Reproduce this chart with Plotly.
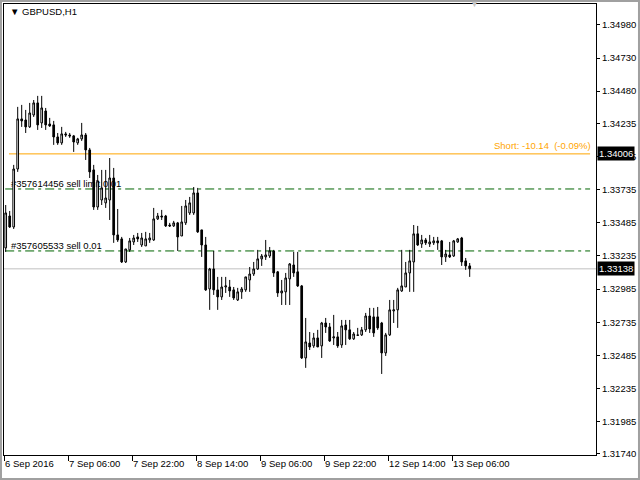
import plotly.graph_objects as go

# ---- data (GBPUSD, H1) ----
opens = [1.33296, 1.33537, 1.33454, 1.33892, 1.34270, 1.34262, 1.34210, 1.34300, 1.34391, 1.34240,
         1.34330, 1.34232, 1.34225, 1.34134, 1.34089, 1.34157, 1.34149, 1.34142, 1.34089, 1.34119,
         1.34149, 1.34036, 1.33885, 1.33605, 1.33658, 1.33636, 1.33658, 1.33824, 1.33394, 1.33364,
         1.33190, 1.33281, 1.33341, 1.33379, 1.33318, 1.33311, 1.33356, 1.33356, 1.33515, 1.33537,
         1.33537, 1.33469, 1.33462, 1.33485, 1.33386, 1.33485, 1.33560, 1.33560, 1.33711, 1.33432,
         1.33318, 1.32986, 1.33137, 1.32979, 1.32926, 1.33001, 1.33001, 1.32979, 1.32903, 1.32964,
         1.32979, 1.33054, 1.33099, 1.33137, 1.33213, 1.33228, 1.33235, 1.33273, 1.33115, 1.32956,
         1.32964, 1.33062, 1.33167, 1.33115, 1.33009, 1.32465, 1.32578, 1.32556, 1.32616, 1.32556,
         1.32729, 1.32699, 1.32616, 1.32624, 1.32563, 1.32714, 1.32677, 1.32609, 1.32639, 1.32639,
         1.32677, 1.32782, 1.32775, 1.32775, 1.32729, 1.32503, 1.32639, 1.32820, 1.32828, 1.32971,
         1.33001, 1.33107, 1.33190, 1.33402, 1.33326, 1.33356, 1.33326, 1.33334, 1.33349, 1.33349,
         1.33228, 1.33243, 1.33235, 1.33341, 1.33371, 1.33198, 1.33160]
highs = [1.33620, 1.33575, 1.33923, 1.34361, 1.34376, 1.34338, 1.34391, 1.34413, 1.34444, 1.34444,
         1.34353, 1.34278, 1.34255, 1.34164, 1.34210, 1.34172, 1.34164, 1.34149, 1.34127, 1.34240,
         1.34164, 1.34051, 1.33923, 1.33847, 1.33885, 1.33885, 1.33975, 1.33900, 1.33590, 1.33379,
         1.33288, 1.33371, 1.33394, 1.33409, 1.33409, 1.33417, 1.33409, 1.33598, 1.33560, 1.33583,
         1.33545, 1.33485, 1.33500, 1.33492, 1.33613, 1.33658, 1.33681, 1.33756, 1.33749, 1.33432,
         1.33379, 1.33145, 1.33273, 1.33077, 1.33077, 1.33077, 1.33054, 1.33001, 1.32994, 1.33001,
         1.33077, 1.33152, 1.33190, 1.33281, 1.33250, 1.33356, 1.33303, 1.33281, 1.33122, 1.33054,
         1.33107, 1.33182, 1.33266, 1.33266, 1.33016, 1.32767, 1.32661, 1.32654, 1.32677, 1.32737,
         1.32767, 1.32729, 1.32790, 1.32661, 1.32752, 1.32752, 1.32752, 1.32661, 1.32692, 1.32699,
         1.32805, 1.32843, 1.32843, 1.32850, 1.32737, 1.32654, 1.32903, 1.32903, 1.32994, 1.33281,
         1.33190, 1.33281, 1.33469, 1.33462, 1.33394, 1.33371, 1.33394, 1.33379, 1.33379, 1.33356,
         1.33281, 1.33341, 1.33356, 1.33371, 1.33379, 1.33220, 1.33182]
lows = [1.33266, 1.33447, 1.33439, 1.33870, 1.34210, 1.34164, 1.34202, 1.34285, 1.34187, 1.34202,
        1.34187, 1.34210, 1.34074, 1.34074, 1.34074, 1.34134, 1.34127, 1.34021, 1.34074, 1.34104,
        1.33960, 1.33824, 1.33583, 1.33583, 1.33620, 1.33598, 1.33507, 1.33334, 1.33341, 1.33182,
        1.33182, 1.33266, 1.33318, 1.33341, 1.33303, 1.33311, 1.33334, 1.33349, 1.33507, 1.33507,
        1.33454, 1.33454, 1.33454, 1.33273, 1.33386, 1.33469, 1.33545, 1.33545, 1.33409, 1.33228,
        1.32971, 1.32828, 1.32941, 1.32828, 1.32903, 1.32956, 1.32926, 1.32903, 1.32895, 1.32911,
        1.32964, 1.32964, 1.33084, 1.33130, 1.33160, 1.33205, 1.33220, 1.33077, 1.32926, 1.32865,
        1.32865, 1.32865, 1.33077, 1.33001, 1.32457, 1.32390, 1.32525, 1.32541, 1.32548, 1.32465,
        1.32654, 1.32586, 1.32563, 1.32541, 1.32541, 1.32563, 1.32601, 1.32601, 1.32631, 1.32631,
        1.32661, 1.32654, 1.32624, 1.32677, 1.32344, 1.32480, 1.32631, 1.32729, 1.32692, 1.32964,
        1.33001, 1.32964, 1.32964, 1.33311, 1.33296, 1.33318, 1.33303, 1.33318, 1.33281, 1.33167,
        1.33190, 1.33220, 1.33228, 1.33334, 1.33160, 1.33130, 1.33077]
closes = [1.33560, 1.33454, 1.33892, 1.34270, 1.34255, 1.34210, 1.34315, 1.34391, 1.34225, 1.34353,
          1.34225, 1.34217, 1.34134, 1.34089, 1.34157, 1.34149, 1.34142, 1.34096, 1.34119, 1.34149,
          1.34036, 1.33870, 1.33605, 1.33802, 1.33749, 1.33673, 1.33824, 1.33394, 1.33356, 1.33190,
          1.33288, 1.33349, 1.33371, 1.33364, 1.33371, 1.33364, 1.33371, 1.33515, 1.33537, 1.33530,
          1.33462, 1.33462, 1.33485, 1.33379, 1.33492, 1.33613, 1.33636, 1.33711, 1.33417, 1.33318,
          1.32979, 1.33137, 1.32979, 1.32926, 1.33001, 1.33009, 1.32971, 1.32918, 1.32964, 1.32986,
          1.33077, 1.33099, 1.33137, 1.33213, 1.33235, 1.33243, 1.33273, 1.33107, 1.32956, 1.32971,
          1.33069, 1.33175, 1.33107, 1.33009, 1.32465, 1.32586, 1.32548, 1.32616, 1.32548, 1.32729,
          1.32699, 1.32593, 1.32624, 1.32556, 1.32707, 1.32677, 1.32609, 1.32646, 1.32636, 1.32677,
          1.32782, 1.32684, 1.32654, 1.32692, 1.32503, 1.32639, 1.32828, 1.32828, 1.32979, 1.33009,
          1.33107, 1.33198, 1.33402, 1.33318, 1.33356, 1.33334, 1.33341, 1.33349, 1.33334, 1.33228,
          1.33250, 1.33228, 1.33349, 1.33364, 1.33190, 1.33160, 1.33138]

y_tick_values = [1.34980, 1.34730, 1.34480, 1.34235, 1.33985, 1.33735, 1.33485,
                 1.33235, 1.32985, 1.32735, 1.32485, 1.32235, 1.31985, 1.31740]
x_label_bars = [0, 16, 32, 48, 64, 80, 96, 112]
x_labels = ["6 Sep 2016", "7 Sep 06:00", "7 Sep 22:00", "8 Sep 14:00",
            "9 Sep 06:00", "9 Sep 22:00", "12 Sep 14:00", "13 Sep 06:00"]

symbol_title = "GBPUSD,H1"
short_level = 1.34006
short_text = "Short: -10.14  (-0.09%)"
bid_price = 1.33138
order_levels = [1.33741, 1.33273]
order_labels = ["#357614456 sell limit 0.01", "#357605533 sell 0.01"]

FONT = "Liberation Sans, Arial, sans-serif"
FS = 9.5

bars = list(range(len(opens)))

fig = go.Figure()
fig.add_trace(go.Candlestick(
    x=bars, open=opens, high=highs, low=lows, close=closes,
    increasing=dict(line=dict(color="black", width=1), fillcolor="white"),
    decreasing=dict(line=dict(color="black", width=1), fillcolor="black"),
    whiskerwidth=0, showlegend=False, hoverinfo="skip",
))

shapes = []
# bid line
shapes.append(dict(type="line", xref="x domain", yref="y", x0=0, x1=1,
                   y0=bid_price, y1=bid_price, line=dict(color="#c0c0c0", width=1),
                   layer="below"))
# short position line
shapes.append(dict(type="line", xref="x domain", yref="y", x0=0.0084, x1=0.99,
                   y0=short_level, y1=short_level, line=dict(color="#ffa500", width=1),
                   layer="below"))
# pending order lines + labels
for lvl, txt in zip(order_levels, order_labels):
    shapes.append(dict(type="line", xref="x domain", yref="y", x0=0.002, x1=0.99,
                       y0=lvl, y1=lvl,
                       line=dict(color="#006400", width=1, dash="9px,4px,3px,4px"),
                       layer="below"))
    shapes.append(dict(type="line", xref="x domain", yref="y", x0=0.0118, x1=0.3,
                       y0=lvl, y1=lvl, line=dict(color="rgba(0,0,0,0)", width=0),
                       layer="below",
                       label=dict(text=txt, textposition="start", xanchor="left",
                                  yanchor="bottom", padding=0,
                                  font=dict(family=FONT, size=FS, color="black"))))
# outer window frame
shapes.append(dict(type="rect", xref="paper", yref="paper",
                   x0=-0.0051, x1=1.0726, y0=-0.0532, y1=1.0067,
                   line=dict(color="#a0a0a0", width=2), layer="above"))

annotations = [
    dict(text="▼ " + symbol_title, xref="paper", yref="paper", x=0.0068, y=0.9823,
         xanchor="left", yanchor="middle", showarrow=False,
         font=dict(family=FONT, size=FS, color="black")),
    dict(text="▼", xref="paper", yref="paper", x=0.7956, y=1.0,
         xanchor="center", yanchor="middle", showarrow=False,
         font=dict(family=FONT, size=9, color="#c8c8c8")),
    dict(text=short_text, xref="paper", yref="y", x=0.995, y=short_level,
         xanchor="right", yanchor="bottom", yshift=1, showarrow=False,
         font=dict(family=FONT, size=FS, color="#ffa500")),
]
for lvl in [short_level, bid_price]:
    annotations.append(dict(text=f"{lvl:.5f}", xref="paper", yref="y", x=1, y=lvl,
                            xanchor="left", yanchor="middle", xshift=1, showarrow=False,
                            bgcolor="black", borderpad=1,
                            font=dict(family=FONT, size=FS, color="white")))

fig.update_layout(
    width=640, height=480, autosize=False,
    margin=dict(l=4, r=44, t=4, b=25, pad=0, autoexpand=False),
    paper_bgcolor="white", plot_bgcolor="white",
    boxgap=0.4,
    shapes=shapes, annotations=annotations,
    font=dict(family=FONT, size=FS, color="black"),
    xaxis=dict(range=[-0.425, 147.575], rangeslider=dict(visible=False),
               automargin=False,
               showgrid=False, zeroline=False, showline=True, mirror=True,
               linecolor="black", linewidth=1, ticks="outside", ticklen=5,
               tickcolor="black", tickwidth=1, tickangle=0,
               tickvals=[b - 0.4 for b in x_label_bars], ticktext=x_labels,
               ticklabelposition="outside right",
               tickfont=dict(family=FONT, size=FS, color="black")),
    yaxis=dict(range=[1.31732, 1.35138], side="right", automargin=False,
               showgrid=False, zeroline=False, showline=True, mirror=True,
               linecolor="black", linewidth=1, ticks="outside", ticklen=3,
               tickcolor="black", tickwidth=1,
               tickvals=y_tick_values, ticktext=[f"{v:.5f}" for v in y_tick_values],
               tickfont=dict(family=FONT, size=FS, color="black")),
)

fig.write_html("out.html", config={"displayModeBar": False},
               post_script="document.body.style.margin='0';")
